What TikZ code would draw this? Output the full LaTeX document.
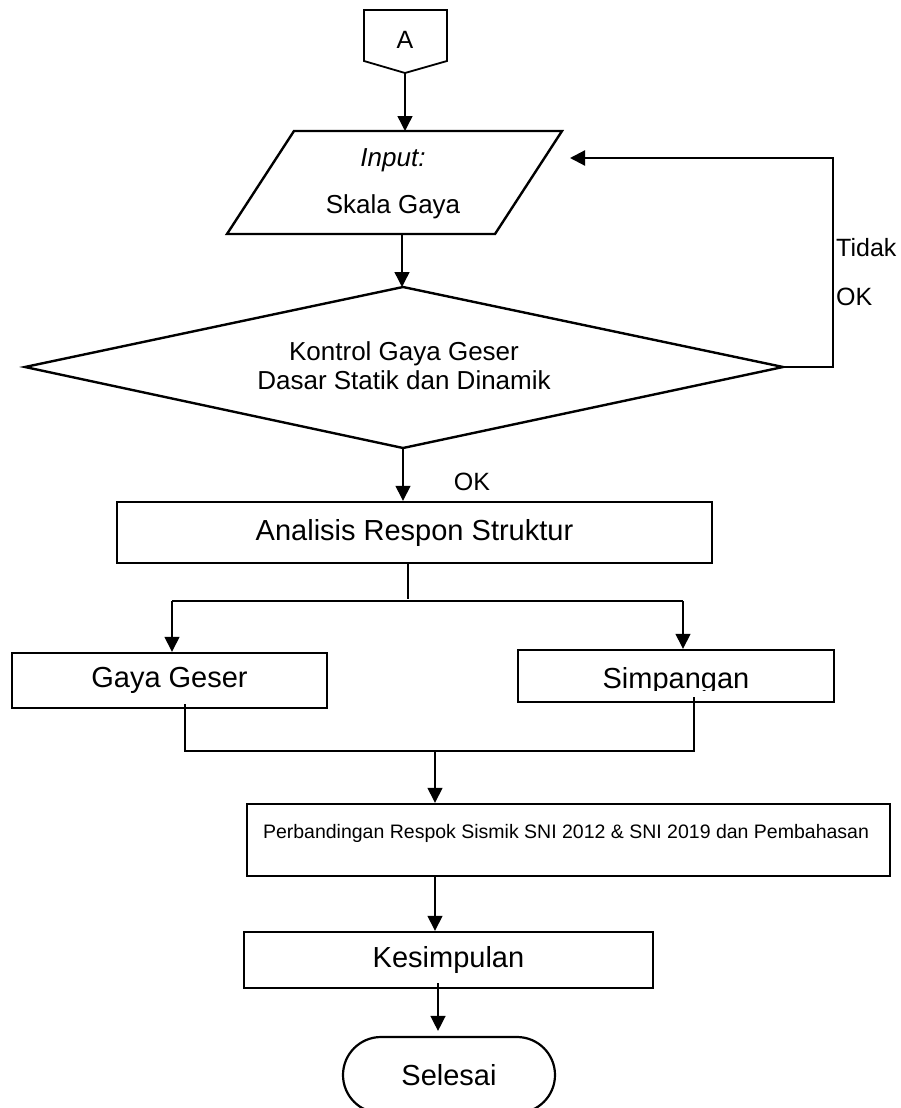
\documentclass[tikz,border=0pt]{standalone}
\usepackage{fontspec}
\setmainfont{Liberation Sans}
\usetikzlibrary{arrows.meta}
\begin{document}
\begin{tikzpicture}[x=1pt,y=-1pt,
  box/.style={draw, line width=2.4pt, rectangle, inner sep=0pt, align=center},
  outline/.style={line width=2.4pt, line join=miter},
  conn/.style={line width=1.4pt},
  thickconn/.style={line width=2.2pt},
  tip/.style={-{Triangle[length=15pt,width=15pt]}},
  arr/.style={conn, tip},
  txt/.style={inner sep=0pt},
  f20/.style={font=\fontsize{19.5}{23}\selectfont},
  f25/.style={font=\fontsize{25}{29}\selectfont},
  f26/.style={font=\fontsize{26}{29}\selectfont},
  f29/.style={font=\fontsize{29}{34}\selectfont}]
\useasboundingbox (0,0) rectangle (901,1108);

% off-page connector A
\draw[outline, line width=1.8pt] (364,10) -- (447,10) -- (447,61) -- (405,73) -- (364,61) -- cycle;
\node[f25, txt] (A) at (405,40) {A};
\coordinate (Ab) at (405,73);

% input parallelogram
\draw[outline] (294,131) -- (562,131) -- (495,234) -- (227,234) -- cycle;
\node[f26, txt] (inp1) at (393,160) {\textit{Input:}};
\node[f26, txt] (inp2) at (393,207) {Skala Gaya};
\coordinate (inT) at (405,131);
\coordinate (inB) at (402,234);
\coordinate (inR) at (570,158);

% decision
\coordinate (diaT) at (403,287);
\coordinate (diaL) at (25,367);
\coordinate (diaR) at (783,367);
\coordinate (diaB) at (403,448);
\draw[outline] (diaT) -- (diaR) -- (diaB) -- (diaL) -- cycle;
\node[f26, txt, align=center] (dia) at (404,366) {Kontrol Gaya Geser\\Dasar Statik dan Dinamik};

% feedback loop
\coordinate (fbS) at (785,367);
\coordinate (fbT) at (833,158);
\draw[thickconn, tip] (fbS) -| (fbT) -- (inR);
\node[f25, txt, anchor=west] (tidak) at (836,248) {Tidak};
\node[f25, txt, anchor=west] (ok1) at (836,297) {OK};

% analysis box
\node[box, f29, minimum width=595, minimum height=61] (ana) at (414.5,532.5) {Analisis Respon Struktur};
\node[f25, txt] (ok2) at (472,482) {OK};

% result boxes
\node[box, f29, minimum width=315, minimum height=55] (gg) at (169.5,680.5) {Gaya Geser};
\node[box, minimum width=316, minimum height=52] (simp) at (676,676) {};
\begin{scope}
\clip (520,640) rectangle (832,690);
\node[f29, txt, anchor=base] (simpt) at (676,688) {Simpangan};
\end{scope}

% comparison box
\node[box, minimum width=643, minimum height=72] (big) at (568.5,840) {};
\node[f20, txt] (bigt) at (566,833) {Perbandingan Respok Sismik SNI 2012 \& SNI 2019 dan Pembahasan};

% conclusion
\node[box, f29, minimum width=409, minimum height=56] (kes) at (448.5,960) {Kesimpulan};

% terminator
\node[draw, line width=2.2pt, rounded corners=38pt, minimum width=212, minimum height=76, inner sep=0pt, f29] (end) at (449,1075) {Selesai};

% connectors
\draw[arr] (Ab) -- (Ab |- inT);
\draw[arr] (inB) -- (inB |- diaT);
\draw[arr] (diaB) -- (diaB |- ana.north);

\coordinate (sp) at (408,601);
\coordinate (spL) at (172,601);
\coordinate (spR) at (683,601);
\draw[thickconn] (ana.south -| sp) -- ([yshift=2pt]sp);
\draw[thickconn] (spL) -- (spR);
\draw[arr] (spL) -- (spL |- gg.north);
\draw[arr] (spR) -- (spR |- simp.north);

\coordinate (mL) at (185,751);
\coordinate (mR) at (694,751);
\coordinate (mC) at (435,751);
\draw[thickconn] ([yshift=5pt]gg.south -| mL) -- (mL) -- (mR) -- ([yshift=6pt]simp.south -| mR);
\draw[arr] (mC) -- (mC |- big.north);
\draw[arr] (big.south -| mC) -- (mC |- kes.north);
\coordinate (kB) at (438,983);
\draw[arr, shorten >=5pt] (kB) -- (kB |- end.north);
\end{tikzpicture}
\end{document}
